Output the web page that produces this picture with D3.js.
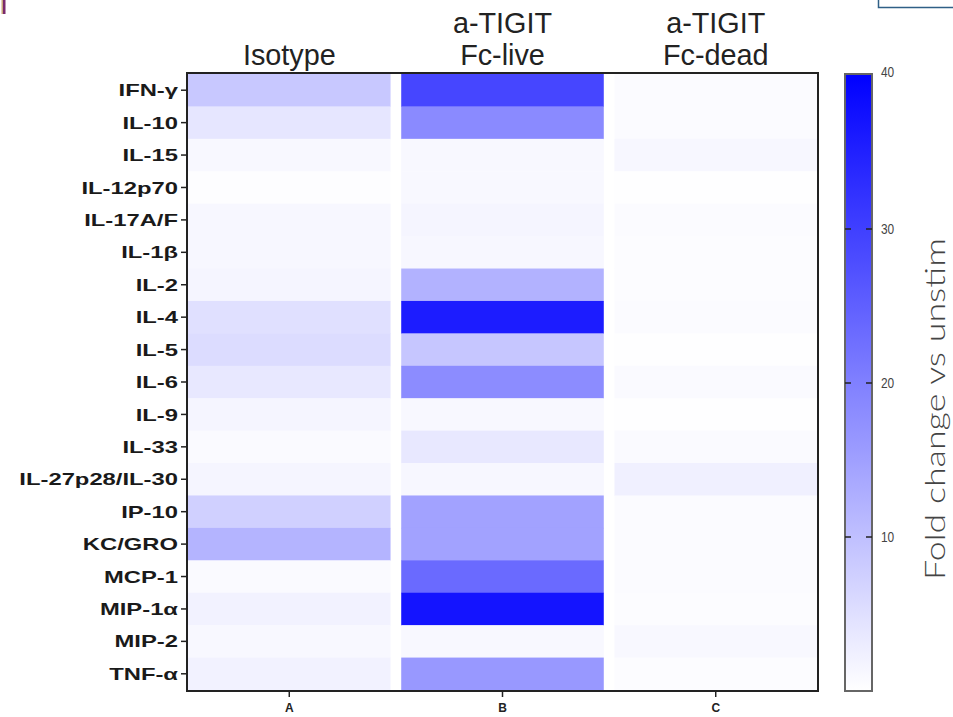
<!DOCTYPE html>
<html>
<head>
<meta charset="utf-8">
<script src="https://cdn.jsdelivr.net/npm/d3@7/dist/d3.min.js"></script>
<style>
  html, body { margin: 0; padding: 0; background: #ffffff; }
  svg { display: block; }
</style>
</head>
<body>
<svg id="chart" width="953" height="717"></svg>
<script>
// Cytokines (rows, top to bottom)
const cytokines = ["IFN-γ", "IL-10", "IL-15", "IL-12p70", "IL-17A/F", "IL-1β", "IL-2", "IL-4",
  "IL-5", "IL-6", "IL-9", "IL-33", "IL-27p28/IL-30", "IP-10", "KC/GRO", "MCP-1", "MIP-1α", "MIP-2", "TNF-α"];

// Treatment groups (columns)
const groupCodes = ["A", "B", "C"];
const groupTitles = [["Isotype"], ["a-TIGIT", "Fc-live"], ["a-TIGIT", "Fc-dead"]];

// Fold change vs unstimulated, one value per cytokine
const isotype = [8.6, 3.9, 1.1, 0.3, 1.3, 1.3, 1.6, 4.9, 5.5, 3.6, 1.6, 0.8, 1.6, 7.4, 11.8, 0.8, 2.0, 1.1, 2.0];
const fcLive  = [29.0, 18.4, 1.1, 1.1, 1.6, 1.3, 12.1, 35.6, 8.9, 18.0, 1.1, 3.6, 1.3, 14.6, 14.6, 23.4, 36.9, 1.1, 16.2];
const fcDead  = [0.6, 0.6, 1.3, 0.1, 0.6, 0.5, 0.5, 0.6, 0.2, 0.8, 0.1, 0.8, 2.4, 0.6, 0.6, 0.6, 0.5, 1.1, 0.5];

// Colour bar
const colorDomain = [0, 40];
const colorTicks = [10, 20, 30, 40];
const colorTitle = "Fold change vs unstim";

const seriesByGroup = { A: isotype, B: fcLive, C: fcDead };
const cells = [];
groupCodes.forEach(g => {
  cytokines.forEach((c, i) => cells.push({ group: g, cytokine: c, value: seriesByGroup[g][i] }));
});

const svg = d3.select("#chart");

const plot = { left: 188, right: 817, top: 74, bottom: 690 };

const x = d3.scaleBand().domain(groupCodes).range([plot.left, plot.right]).paddingInner(0.05).paddingOuter(0);
const y = d3.scaleBand().domain(cytokines).range([plot.top, plot.bottom]).padding(0);
const color = d3.scaleLinear().domain(colorDomain).range(["#ffffff", "#0000ff"]).clamp(true);

// Heatmap cells
svg.append("g")
  .selectAll("rect")
  .data(cells)
  .join("rect")
  .attr("x", d => x(d.group))
  .attr("y", d => y(d.cytokine))
  .attr("width", x.bandwidth())
  .attr("height", y.bandwidth() + 0.5)
  .attr("fill", d => color(d.value));

// Frame around the heatmap
svg.append("rect")
  .attr("x", plot.left - 1)
  .attr("y", plot.top - 1)
  .attr("width", plot.right - plot.left + 2)
  .attr("height", plot.bottom - plot.top + 2)
  .attr("fill", "none")
  .attr("stroke", "#222")
  .attr("stroke-width", 2);

// Row axis
const yAxis = svg.append("g")
  .attr("transform", `translate(${plot.left - 1},0)`)
  .call(d3.axisLeft(y).tickSize(6).tickPadding(3));
yAxis.select(".domain").remove();
yAxis.selectAll(".tick line").attr("stroke", "#222").attr("stroke-width", 1.5);
yAxis.selectAll(".tick text")
  .attr("font-family", "'Liberation Sans', Arial, sans-serif")
  .attr("font-weight", "bold")
  .attr("font-size", 17)
  .attr("fill", "#1a1a1a")
  .attr("dy", "0.36em")
  .attr("transform", "translate(-9,0) scale(1.4,1)")
  .attr("x", 0);

// Column axis (bottom codes)
const xAxis = svg.append("g")
  .attr("transform", `translate(0,${plot.bottom + 1})`)
  .call(d3.axisBottom(x).tickSize(6).tickPadding(6));
xAxis.select(".domain").remove();
xAxis.selectAll(".tick line").attr("stroke", "#222").attr("stroke-width", 1.5);
xAxis.selectAll(".tick text")
  .attr("font-family", "'Liberation Sans', Arial, sans-serif")
  .attr("font-weight", "bold")
  .attr("font-size", 12)
  .attr("fill", "#222");

// Column titles
const titles = svg.append("g")
  .selectAll("text")
  .data(groupCodes.map((g, i) => ({ g, lines: groupTitles[i] })))
  .join("text")
  .attr("text-anchor", "middle")
  .attr("font-family", "'Liberation Sans', Arial, sans-serif")
  .attr("font-size", 30)
  .attr("fill", "#222")
  .attr("transform", d => `translate(${x(d.g) + x.bandwidth() / 2},0) scale(0.96,1)`);
titles.selectAll("tspan")
  .data(d => d.lines.map((t, i, arr) => ({ t, row: arr.length - 1 - i })))
  .join("tspan")
  .attr("x", 0)
  .attr("y", d => 65 - d.row * 32)
  .text(d => d.t);

// Colour bar
const bar = { x: 845, width: 27, top: 74, bottom: 691 };
const cScale = d3.scaleLinear().domain(colorDomain).range([bar.bottom, bar.top + 1]);

const defs = svg.append("defs");
const grad = defs.append("linearGradient")
  .attr("id", "fold-grad")
  .attr("x1", 0).attr("y1", 1).attr("x2", 0).attr("y2", 0);
d3.range(0, 1.0001, 0.1).forEach(t => {
  grad.append("stop")
    .attr("offset", t)
    .attr("stop-color", color(colorDomain[0] + t * (colorDomain[1] - colorDomain[0])));
});

svg.append("rect")
  .attr("x", bar.x)
  .attr("y", bar.top)
  .attr("width", bar.width)
  .attr("height", bar.bottom - bar.top)
  .attr("fill", "url(#fold-grad)")
  .attr("stroke", "#666")
  .attr("stroke-width", 2);

const barTicks = svg.append("g");
const innerTicks = colorTicks.filter(v => v < colorDomain[1]);
barTicks.selectAll("line.l")
  .data(innerTicks)
  .join("line")
  .attr("class", "l")
  .attr("x1", bar.x).attr("x2", bar.x + 6)
  .attr("y1", d => cScale(d)).attr("y2", d => cScale(d))
  .attr("stroke", "#222").attr("stroke-width", 1.5);
barTicks.selectAll("line.r")
  .data(innerTicks)
  .join("line")
  .attr("class", "r")
  .attr("x1", bar.x + bar.width - 6).attr("x2", bar.x + bar.width)
  .attr("y1", d => cScale(d)).attr("y2", d => cScale(d))
  .attr("stroke", "#222").attr("stroke-width", 1.5);
barTicks.selectAll("text")
  .data(colorTicks)
  .join("text")
  .attr("x", bar.x + bar.width + 9)
  .attr("y", d => cScale(d) - (d === colorDomain[1] ? 3 : 0))
  .attr("dy", "0.35em")
  .attr("font-family", "'Liberation Sans', Arial, sans-serif")
  .attr("font-size", 14)
  .attr("fill", "#444")
  .attr("transform", d => `translate(${(bar.x + bar.width + 9) * 0.15},0) scale(0.85,1)`)
  .text(d => d);

// Colour bar title
svg.append("text")
  .attr("transform", "translate(945,409) rotate(-90)")
  .attr("text-anchor", "middle")
  .attr("font-family", "Lato, 'Open Sans', sans-serif")
  .attr("font-weight", 300)
  .attr("font-size", 28)
  .attr("fill", "#444")
  .attr("textLength", 342)
  .attr("lengthAdjust", "spacingAndGlyphs")
  .text(colorTitle);

// Page edge ornaments
svg.append("rect").attr("x", 3).attr("y", 0).attr("width", 2.5).attr("height", 14).attr("fill", "#7a2a6e");
svg.append("rect").attr("x", 1.5).attr("y", 0).attr("width", 1.5).attr("height", 14).attr("fill", "#c9a77a");
svg.append("path")
  .attr("d", "M878.5,0 V7.5 H953")
  .attr("fill", "none")
  .attr("stroke", "#2f5f86")
  .attr("stroke-width", 1.5);
</script>
</body>
</html>
